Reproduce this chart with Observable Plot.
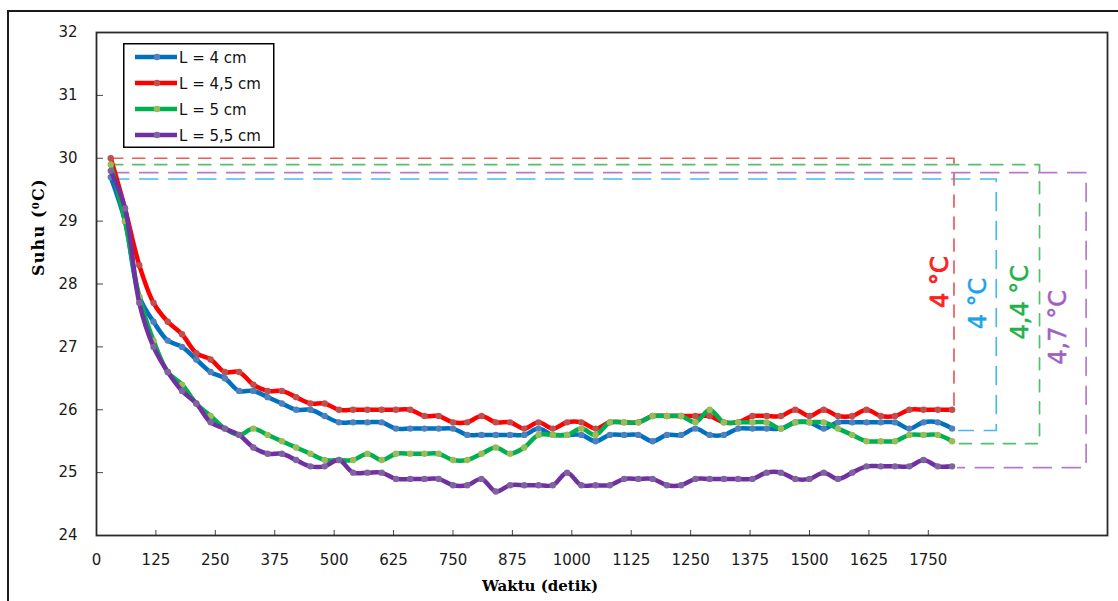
<!DOCTYPE html>
<html><head><meta charset="utf-8">
<script src="https://cdn.jsdelivr.net/npm/d3@7"></script>
<script src="https://cdn.jsdelivr.net/npm/@observablehq/plot@0.6"></script>
<style>
body{margin:0;background:#fff;overflow:hidden;width:1118px;height:601px;position:relative}
#chart{position:absolute;left:0;top:0}
#outer{position:absolute;left:7px;top:10px;width:1200px;height:700px;border:2px solid #1a1a1a;pointer-events:none}
#legend{position:absolute;left:123px;top:43px}
</style></head><body>
<div id="chart"></div><div id="legend"></div><div id="outer"></div>
<script>
const times = [30,60,90,120,150,180,210,240,270,300,330,360,390,420,450,480,510,540,570,600,
  630,660,690,720,750,780,810,840,870,900,930,960,990,1020,1050,1080,1110,1140,1170,1200,
  1230,1260,1290,1320,1350,1380,1410,1440,1470,1500,1530,1560,1590,1620,1650,1680,1710,1740,1770,1800];

const seriesNames = ["L = 4 cm", "L = 4,5 cm", "L = 5 cm", "L = 5,5 cm"];

const tempL4 = [29.7,29.0,27.8,27.4,27.1,27.0,26.8,26.6,26.5,26.3,26.3,26.2,26.1,26.0,26.0,25.9,25.8,25.8,25.8,25.8,
  25.7,25.7,25.7,25.7,25.7,25.6,25.6,25.6,25.6,25.6,25.7,25.6,25.6,25.6,25.5,25.6,25.6,25.6,25.5,25.6,
  25.6,25.7,25.6,25.6,25.7,25.7,25.7,25.7,25.8,25.8,25.7,25.8,25.8,25.8,25.8,25.8,25.7,25.8,25.8,25.7];
const tempL45 = [30.0,29.2,28.3,27.7,27.4,27.2,26.9,26.8,26.6,26.6,26.4,26.3,26.3,26.2,26.1,26.1,26.0,26.0,26.0,26.0,
  26.0,26.0,25.9,25.9,25.8,25.8,25.9,25.8,25.8,25.7,25.8,25.7,25.8,25.8,25.7,25.8,25.8,25.8,25.9,25.9,
  25.9,25.9,25.9,25.8,25.8,25.9,25.9,25.9,26.0,25.9,26.0,25.9,25.9,26.0,25.9,25.9,26.0,26.0,26.0,26.0];
const tempL5 = [29.9,29.0,27.8,27.1,26.6,26.4,26.1,25.9,25.7,25.6,25.7,25.6,25.5,25.4,25.3,25.2,25.2,25.2,25.3,25.2,
  25.3,25.3,25.3,25.3,25.2,25.2,25.3,25.4,25.3,25.4,25.6,25.6,25.6,25.7,25.6,25.8,25.8,25.8,25.9,25.9,
  25.9,25.8,26.0,25.8,25.8,25.8,25.8,25.7,25.8,25.8,25.8,25.7,25.6,25.5,25.5,25.5,25.6,25.6,25.6,25.5];
const tempL55 = [29.8,29.2,27.7,27.0,26.6,26.3,26.1,25.8,25.7,25.6,25.4,25.3,25.3,25.2,25.1,25.1,25.2,25.0,25.0,25.0,
  24.9,24.9,24.9,24.9,24.8,24.8,24.9,24.7,24.8,24.8,24.8,24.8,25.0,24.8,24.8,24.8,24.9,24.9,24.9,24.8,
  24.8,24.9,24.9,24.9,24.9,24.9,25.0,25.0,24.9,24.9,25.0,24.9,25.0,25.1,25.1,25.1,25.1,25.2,25.1,25.1];

const seriesValues = [tempL4, tempL45, tempL5, tempL55];
const lineColors = ["#0070C0", "#FF0000", "#00B050", "#7030A0"];
const markerColors = ["#4F81BD", "#C0504D", "#9BBB59", "#8064A2"];

const xTicks = [0,125,250,375,500,625,750,875,1000,1125,1250,1375,1500,1625,1750];
const yTicks = [24,25,26,27,28,29,30,31,32];

// temperature-drop annotations (order: 4, 4.5, 5, 5.5 cm)
const deltaLabels = ["4 °C", "4 °C", "4,4 °C", "4,7 °C"];
const deltaTop = [29.67, 30.0, 29.9, 29.77];
const deltaBottom = [25.67, 26.0, 25.46, 25.08];
const deltaX = [1893, 1804, 1984, 2082];
const deltaStartX = [30, 30, 30, 30];
const deltaEndX = [1814, 1804, 1812, 1812];
const deltaLabelX = [1856, 1776, 1944, 2024];
const deltaLabelY = [27.69, 28.03, 27.71, 27.31];
const dashColors = ["#47B9EC", "#EF5B5B", "#52C06E", "#B57BC9"];
const dashPatterns = ["18,11", "12,10", "12,10", "18,11"];
const labelColors = ["#1AA3E8", "#FF1E1E", "#22B04A", "#A35EC2"];
const labelStroke = [0.5, 0.9, 0.5, 0.5];

const W = 1118, H = 601, mL = 96, mT = 32, mR = 11, mB = 66;
const pw = W - mL - mR, ph = H - mT - mB;

const marks = [];
// dashed annotation brackets (under data)
seriesNames.forEach((_, i) => {
  const pts = [
    {t: deltaStartX[i], v: deltaTop[i]},
    {t: deltaX[i], v: deltaTop[i]},
    {t: deltaX[i], v: deltaBottom[i]},
    {t: deltaEndX[i], v: deltaBottom[i]}
  ];
  marks.push(Plot.line(pts, {x: "t", y: "v", stroke: dashColors[i], strokeWidth: 1.7, strokeDasharray: dashPatterns[i]}));
});
// data
seriesNames.forEach((name, i) => {
  const data = times.map((t, k) => ({t, v: seriesValues[i][k], name}));
  marks.push(Plot.line(data, {x: "t", y: "v", stroke: lineColors[i], strokeWidth: 4.5, curve: "catmull-rom"}));
  marks.push(Plot.dot(data, {x: "t", y: "v", r: 3.2, fill: markerColors[i], stroke: "none"}));
});
// annotation labels
seriesNames.forEach((_, i) => {
  marks.push(Plot.text([deltaLabels[i]], {
    x: [deltaLabelX[i]], y: [deltaLabelY[i]], text: d => d, rotate: -90,
    fill: labelColors[i], fontSize: 24, fontFamily: "DejaVu Sans",
    stroke: labelColors[i], strokeWidth: labelStroke[i]
  }));
});
// inner ticks
marks.push(Plot.ruleX(xTicks.slice(1), {x: d => d, insetTop: ph - 5, stroke: "#444", strokeWidth: 1}));
marks.push(Plot.ruleY(yTicks.slice(1, -1), {y: d => d, insetRight: pw - 7, stroke: "#444", strokeWidth: 1}));
marks.push(Plot.frame({stroke: "#2a2a2a", strokeWidth: 1.8}));
// axes
marks.push(Plot.axisX({ticks: xTicks, tickSize: 0, tickPadding: 19, label: null, tickFormat: d => String(d), fill: "#1a1a1a"}));
marks.push(Plot.axisY({ticks: yTicks, tickSize: 0, tickPadding: 19, label: null, tickFormat: d => String(d), fill: "#1a1a1a"}));
// axis titles
marks.push(Plot.text(["Suhu (⁰C)"], {text: d => d, frameAnchor: "left", dx: -58, dy: -8, rotate: -90,
  fontFamily: "DejaVu Serif", fontWeight: "bold", fontSize: 16, fill: "#000", className: "ytitle"}));
marks.push(Plot.text(["Waktu (detik)"], {text: d => d, frameAnchor: "bottom", dx: -62, dy: 55,
  fontFamily: "DejaVu Serif", fontWeight: "bold", fontSize: 15, fill: "#000"}));

const chart = Plot.plot({
  width: W, height: H,
  marginLeft: mL, marginTop: mT, marginRight: mR, marginBottom: mB,
  x: {domain: [0, 2127], axis: null},
  y: {domain: [24, 32], axis: null},
  style: {fontFamily: "DejaVu Sans", fontSize: "15px", background: "transparent", overflow: "visible"},
  marks
});
d3.select(chart).selectAll(".ytitle text").attr("letter-spacing", "1.2px");
document.getElementById("chart").appendChild(chart);

// legend
const lg = d3.select("#legend").append("svg").attr("width", 152).attr("height", 106)
  .style("font-family", "DejaVu Sans").style("font-size", "15px");
lg.append("rect").attr("x", 0.75).attr("y", 0.75).attr("width", 150).attr("height", 103.5)
  .attr("fill", "#fff").attr("stroke", "#000").attr("stroke-width", 1.5);
seriesNames.forEach((name, i) => {
  const yy = 14 + i * 26;
  lg.append("line").attr("x1", 12).attr("x2", 54).attr("y1", yy).attr("y2", yy)
    .attr("stroke", lineColors[i]).attr("stroke-width", 4.5);
  lg.append("circle").attr("cx", 34).attr("cy", yy).attr("r", 3.2).attr("fill", markerColors[i]);
  lg.append("text").attr("x", 56).attr("y", yy + 5.5).attr("fill", "#111").text(name);
});
</script>
</body></html>
